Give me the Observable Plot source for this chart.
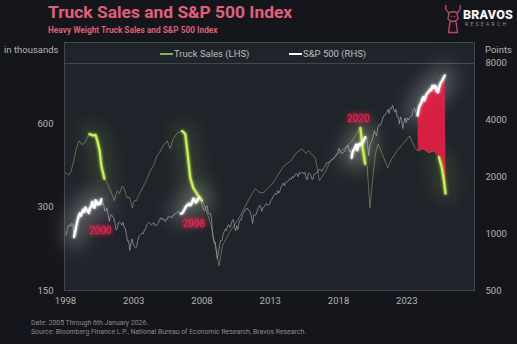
<!DOCTYPE html>
<html><head><meta charset="utf-8">
<script src="https://cdn.jsdelivr.net/npm/d3@7"></script>
<script src="https://cdn.jsdelivr.net/npm/@observablehq/plot@0.6"></script>
<style>
html,body{margin:0;padding:0;background:#15161b;}
#wrap{position:relative;width:517px;height:344px;overflow:hidden;background:#15161b;font-family:Roboto,"Noto Sans",sans-serif;}
.abs{position:absolute;white-space:nowrap;line-height:1;}
#title{left:48px;top:4px;font-size:17.4px;font-weight:700;color:#e0607c;}
#subtitle{left:48px;top:25.5px;font-size:8.3px;font-weight:700;color:#d9607a;}
#brand{left:463px;top:9px;font-size:12.5px;font-weight:900;color:#f2f2f2;letter-spacing:0.2px;}
#research{left:465px;top:22px;font-size:5px;color:#9e8890;letter-spacing:2.3px;}
#logo{left:443px;top:4px;}
#frame{left:64px;top:42px;width:411px;height:249px;box-sizing:border-box;border:1px solid #42474f;background:#1f232a;}
#sep{left:65px;top:63px;width:409px;height:1px;background:#42474f;}
.ax{font-size:9.5px;color:#b4b4b4;}
#lt{left:4px;top:44.5px;}
#rt{left:485px;top:44.5px;}
.leg{top:48.5px;font-size:9.5px;color:#bdbdbd;}
.sw{height:1.6px;width:13px;}
#foot1{left:31px;top:319.5px;font-size:6.9px;color:#8a8a8a;}
#foot2{left:31px;top:328.5px;font-size:6.9px;color:#8a8a8a;}
#chart{left:0;top:40px;}
</style></head>
<body>
<div id="wrap">
  <div class="abs" id="title">Truck Sales and S&amp;P 500 Index</div>
  <div class="abs" id="subtitle">Heavy Weight Truck Sales and S&amp;P 500 Index</div>
  <svg class="abs" id="logo" width="20" height="30" viewBox="0 0 20 30"><path d="M3 1 Q1.5 7 7 9 M17 1 Q18.5 7 13 9 M6 9 Q10 6.5 14 9 L15 15 Q10 20 5 15 Z M7 17.5 L5.5 28.5 L14.5 28.5 L13 17.5 M8 12 L9 13 M12 12 L11 13" fill="none" stroke="#b8496a" stroke-width="1.4"/></svg>
  <div class="abs" id="brand">BRAVOS</div>
  <div class="abs" id="research">RESEARCH</div>
  <div class="abs" id="frame"></div>
  <div class="abs" id="sep"></div>
  <div class="abs ax" id="lt">in thousands</div>
  <div class="abs ax" id="rt">Points</div>
  <div class="abs sw" style="left:160px;top:53px;background:#86b452;"></div>
  <div class="abs leg" style="left:174px;">Truck Sales (LHS)</div>
  <div class="abs sw" style="left:289px;top:53px;background:#ffffff;"></div>
  <div class="abs leg" style="left:303px;">S&amp;P 500 (RHS)</div>
  <div class="abs" id="chart"></div>
  <div class="abs" id="foot1">Date: 2005 Through 6th January 2026.</div>
  <div class="abs" id="foot2">Source: Bloomberg Finance L.P., National Bureau of Economic Research, Bravos Research.</div>
</div>
<script>
const xTicks = [1998, 2003, 2008, 2013, 2018, 2023];
const leftTicks = [150, 300, 600];
const rightTicks = [500, 1000, 2000, 4000, 8000];
const spxStart = 1998;
const spxValues = [
  980,1049,1101,1111,1090,1133,1120,957,1017,1098,1163,1229,
  1279,1238,1286,1335,1301,1372,1328,1320,1282,1362,1389,1469,
  1394,1366,1499,1452,1421,1455,1431,1518,1437,1429,1315,1320,
  1366,1240,1160,1249,1256,1224,1211,1134,1041,1060,1139,1148,
  1130,1107,1147,1077,1067,990,912,916,815,886,936,880,
  856,841,848,917,964,975,990,1008,996,1051,1058,1112,
  1131,1145,1126,1107,1121,1141,1102,1104,1115,1130,1174,1212,
  1181,1204,1181,1157,1192,1191,1234,1220,1229,1207,1249,1248,
  1280,1281,1295,1311,1270,1270,1277,1304,1336,1378,1401,1418,
  1438,1407,1421,1482,1531,1503,1455,1474,1527,1549,1481,1468,
  1378,1331,1323,1386,1400,1280,1267,1283,1165,969,896,903,
  826,735,798,873,919,919,987,1021,1057,1036,1096,1115,
  1074,1104,1169,1187,1089,1031,1102,1049,1141,1183,1181,1258,
  1286,1327,1326,1364,1345,1321,1292,1219,1131,1253,1247,1258,
  1312,1366,1408,1398,1310,1362,1379,1407,1441,1412,1416,1426,
  1498,1515,1569,1598,1631,1606,1686,1633,1682,1757,1806,1848,
  1783,1859,1872,1884,1924,1960,1931,2003,1972,2018,2068,2059,
  1995,2105,2068,2086,2107,2063,2104,1972,1920,2079,2080,2044,
  1940,1932,2060,2065,2097,2099,2174,2171,2168,2126,2199,2239,
  2279,2364,2363,2384,2412,2423,2470,2472,2519,2575,2648,2674,
  2824,2714,2641,2648,2705,2718,2816,2902,2914,2711,2760,2507,
  2704,2784,2834,2946,2752,2942,2980,2926,2977,3038,3141,3231,
  3226,2954,2585,2912,3044,3100,3271,3500,3363,3270,3622,3756,
  3714,3811,3973,4181,4204,4298,4395,4523,4308,4605,4567,4766,
  4516,4374,4530,4132,4132,3785,4130,3955,3586,3872,4080,3840,
  4077,3970,4109,4169,4180,4450,4589,4508,4288,4194,4568,4770,
  4846,5096,5254,5036,5278,5460,5522,5648,5762,5705,6032,5882,
  6041,5955,5612,5569,5912,6205,6339,6460,6688,6840
];
const truckYears = [1998.0,1998.25,1998.42,1998.6,1998.8,1999.0,1999.2,1999.4,1999.6,1999.75,
  2000.0,2000.2,2000.35,2000.5,2000.63,2000.85,2001.07,2001.3,2001.45,2001.58,2001.8,2001.95,
  2002.17,2002.3,2002.5,2002.7,2002.9,2003.04,2003.2,2003.34,2003.55,2003.8,2004.0,2004.2,2004.5,
  2004.7,2004.87,2005.16,2005.3,2005.45,2005.67,2005.9,2006.19,2006.55,2006.77,2006.92,2007.14,
  2007.36,2007.72,2008.0,2008.2,2008.45,2008.67,2008.9,2009.1,2009.25,2009.5,2009.75,2010.0,
  2010.3,2010.6,2011.0,2011.5,2011.9,2012.2,2012.5,2012.8,2013.2,2013.6,2014.0,2014.5,2014.9,
  2015.3,2015.6,2015.8,2016.3,2016.6,2017.0,2017.4,2017.8,2018.2,2018.5,2019.0,2019.3,2019.6,
  2019.75,2019.95,2020.1,2020.3,2020.5,2020.7,2020.9,2021.2,2021.6,2021.9,2022.3,2022.7,2023.2,
  2023.6,2023.8,2024.2,2024.6,2025.0,2025.35,2025.55,2025.7,2025.84];
const truckValues = [399,392,406,440,490,521,505,512,535,552,
  545,548,517,480,423,380,365,344,330,317,344,336,
  358,350,325,325,298,317,317,330,344,365,383,406,430,
  460,472,500,510,521,488,530,557,566,552,480,383,
  352,330,317,303,279,257,227,200,184,218,230,243,
  255,268,292,325,350,340,338,350,367,395,423,441,470,
  488,470,480,452,375,400,441,460,480,492,521,550,580,
  500,430,420,298,380,468,508,468,416,449,480,508,543,
  492,480,487,472,480,455,420,380,336];
const spxHighlights = [[1998.6, 2000.7], [2006.42, 2007.85], [2018.9, 2020.0], [2023.75, 2026]];
const truckHighlights = [[1999.75, 2000.85], [2006.55, 2008.0], [2019.6, 2019.95], [2025.35, 2026]];
const gapWindow = [2023.75, 2026];
const labelTexts = ["2000", "2008", "2020"];
const labelYears = [2000.56, 2007.41, 2019.45];
const labelPoints = [1030, 1122, 4030];

const L0 = 150, L1 = 1000, R0 = 500, R1 = 8000;
const kExp = Math.log(L1 / L0) / Math.log(R1 / R0);
const toLeft = s => L0 * Math.pow(s / R0, kExp);
const spx = spxValues.map((v, i) => ({t: spxStart + (i + 0.5) / 12, v: toLeft(v)}));
const truck = truckYears.map((t, i) => ({t, v: truckValues[i]}));
function segs(rows, wins) {
  const out = [];
  wins.forEach((w, j) => rows.forEach(r => { if (r.t >= w[0] && r.t <= w[1]) out.push({...r, seg: j}); }));
  return out;
}
const spxHL = segs(spx, spxHighlights);
const truckHL = segs(truck, truckHighlights);
const inGap = r => r.t >= gapWindow[0] && r.t <= gapWindow[1];
const gapPoly = [...spx.filter(inGap), ...truck.filter(inGap).reverse()];
const labels = labelTexts.map((s, i) => ({s, t: labelYears[i], v: toLeft(labelPoints[i])}));

const marks = [
  ["", Plot.line(truck, {x: "t", y: "v", stroke: "#7c8a66", strokeWidth: 0.9, strokeOpacity: 0.8})],
  ["", Plot.line(spx, {x: "t", y: "v", stroke: "#a3a7ad", strokeWidth: 0.9, strokeOpacity: 0.75})],
  ["halo", Plot.line(spxHL, {x: "t", y: "v", z: "seg", stroke: "#ffffff", strokeWidth: 20, strokeOpacity: 0.28})],
  ["halo", Plot.line(truckHL, {x: "t", y: "v", z: "seg", stroke: "#c8f25a", strokeWidth: 14, strokeOpacity: 0.2})],
  ["", Plot.line(gapPoly, {x: "t", y: "v", fill: "#e01f45", stroke: "none", fillOpacity: 0.95})],
  ["glow", Plot.line(truckHL, {x: "t", y: "v", z: "seg", stroke: "#c8f25a", strokeWidth: 2.2})],
  ["glow", Plot.line(spxHL, {x: "t", y: "v", z: "seg", stroke: "#ffffff", strokeWidth: 2.2})],
  ["glowred", Plot.text(labels, {x: "t", y: "v", text: "s", fill: "#f0284f", fontSize: 10})],
  ["", Plot.text(leftTicks, {y: d => d, text: d => String(d), frameAnchor: "left", dx: -12, textAnchor: "end", fill: "#b4b4b4", fontSize: 9.5})],
  ["", Plot.text(rightTicks, {y: d => toLeft(d), text: d => String(d), frameAnchor: "right", dx: 11, textAnchor: "start", fill: "#b4b4b4", fontSize: 9.5})],
  ["", Plot.text(xTicks, {x: d => d, text: d => String(d), frameAnchor: "bottom", dy: 13, fill: "#b4b4b4", fontSize: 9.5})]
];
const plot = Plot.plot({
  width: 517, height: 274,
  marginTop: 22, marginBottom: 24, marginLeft: 65, marginRight: 43,
  x: {domain: [1998, 2027.96], axis: null},
  y: {type: "log", domain: [L0, L1], axis: null},
  style: {background: "transparent", fontFamily: "Roboto, sans-serif", overflow: "visible"},
  marks: marks.map(m => m[1])
});
const ns = "http://www.w3.org/2000/svg";
function el(tag, attrs, parent) { const e = document.createElementNS(ns, tag); for (const k in attrs) e.setAttribute(k, attrs[k]); parent.appendChild(e); return e; }
const defs = document.createElementNS(ns, "defs");
function glowFilter(id, sd, reps) {
  const f = el("filter", {id, x: "-50%", y: "-50%", width: "200%", height: "200%"}, defs);
  el("feGaussianBlur", {in: "SourceGraphic", stdDeviation: sd, result: "b"}, f);
  const m = el("feMerge", {}, f);
  for (let i = 0; i < reps; i++) el("feMergeNode", {in: "b"}, m);
  el("feMergeNode", {in: "SourceGraphic"}, m);
}
glowFilter("glow", 1.8, 1);
glowFilter("glowred", 2.5, 2);
const fh = el("filter", {id: "halo", x: "-50%", y: "-100%", width: "200%", height: "300%"}, defs);
el("feGaussianBlur", {in: "SourceGraphic", stdDeviation: 10}, fh);
plot.insertBefore(defs, plot.firstChild);
const groups = [...plot.children].filter(n => n.tagName.toLowerCase() === "g");
marks.forEach((m, i) => { if (m[0] && groups[i]) groups[i].setAttribute("filter", `url(#${m[0]})`); });
document.getElementById("chart").appendChild(plot);
</script>
</body></html>
